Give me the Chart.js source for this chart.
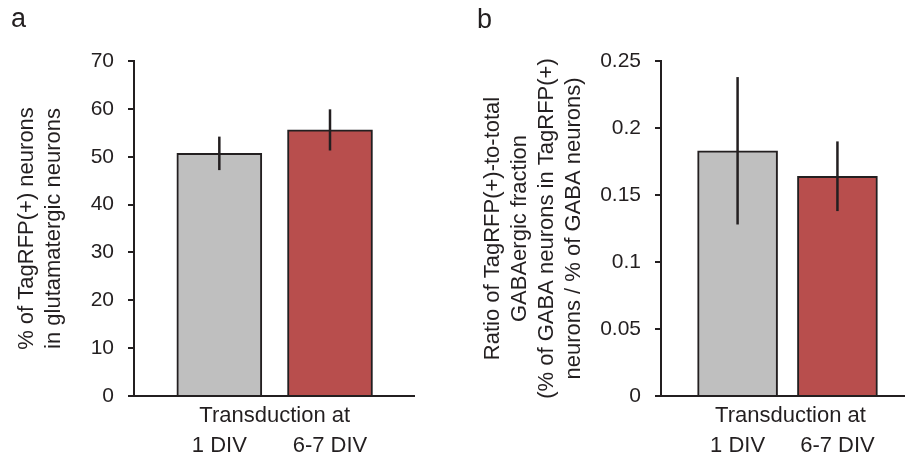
<!DOCTYPE html>
<html>
<head>
<meta charset="utf-8">
<script src="https://cdn.jsdelivr.net/npm/chart.js@4.4.1/dist/chart.umd.min.js"></script>
<style>
  body { margin: 0; background: #fff; }
  #wrap { position: relative; width: 912px; height: 461px; overflow: hidden; font-family: "Liberation Sans", Arial, sans-serif; color: #231f20; }
  .panel { position: absolute; top: 0; width: 456px; height: 461px; }
  .tag { position: absolute; font-size: 27px; line-height: 27px; }
</style>
</head>
<body>
<div id="wrap">
  <div class="panel" style="left:0"><canvas id="chartA" width="456" height="461"></canvas></div>
  <div class="panel" style="left:456px"><canvas id="chartB" width="456" height="461"></canvas></div>
  <div class="tag" style="left:11px; top:5px">a</div>
  <div class="tag" style="left:477px; top:6px">b</div>
</div>
<script>
// values
const categories = ['1 DIV', '6-7 DIV'];
const glutMeans = [50.7, 55.6];
const glutErrors = [3.5, 4.3];
const gabaMeans = [0.183, 0.164];
const gabaErrors = [0.055, 0.026];
const glutTicks = [0, 10, 20, 30, 40, 50, 60, 70];
const gabaTicks = [0, 0.05, 0.1, 0.15, 0.2, 0.25];
const barColors = ['#bfbfbf', '#b84e4d'];
const ink = '#231f20';

Chart.defaults.font.family = '"Liberation Sans", Arial, sans-serif';
Chart.defaults.color = ink;

// draws the error bars (no caps) through the chart scales
const errorBars = {
  id: 'errorBars',
  afterDatasetsDraw(chart, args, opts) {
    const ctx = chart.ctx;
    const y = chart.scales.y;
    const meta = chart.getDatasetMeta(0);
    ctx.save();
    ctx.strokeStyle = ink;
    ctx.lineWidth = 2.5;
    meta.data.forEach((bar, i) => {
      const v = opts.means[i], e = opts.errors[i];
      ctx.beginPath();
      ctx.moveTo(bar.x, y.getPixelForValue(v + e));
      ctx.lineTo(bar.x, y.getPixelForValue(v - e));
      ctx.stroke();
    });
    ctx.restore();
  }
};

// "Transduction at" sits above the category labels
const groupLabel = {
  id: 'groupLabel',
  afterDraw(chart, args, opts) {
    const ctx = chart.ctx;
    ctx.save();
    ctx.font = '22px "Liberation Sans", Arial, sans-serif';
    ctx.fillStyle = ink;
    ctx.textAlign = 'center';
    ctx.textBaseline = 'middle';
    ctx.fillText(opts.text, chart.scales.x.getPixelForValue(1.5) + opts.shift, chart.chartArea.bottom + 20);
    ctx.restore();
  }
};

function makeChart(id, means, errors, ticks, title, cfg) {
  new Chart(document.getElementById(id), {
    type: 'bar',
    data: {
      datasets: [{
        data: means.map((v, i) => ({ x: i + 1, y: v })),
        backgroundColor: barColors,
        borderColor: ink,
        borderWidth: 2,
        barThickness: cfg.barWidth
      }]
    },
    options: {
      responsive: false,
      animation: false,
      layout: { padding: { top: 61, right: cfg.right, left: 0, bottom: 0 } },
      plugins: {
        legend: { display: false },
        tooltip: { enabled: false },
        errorBars: { means: means, errors: errors },
        groupLabel: { text: 'Transduction at', shift: cfg.shift }
      },
      scales: {
        x: {
          type: 'linear',
          offset: false,
          min: cfg.xmin,
          max: cfg.xmax,
          grid: { display: false, drawTicks: false },
          border: { display: true, color: ink, width: 2 },
          afterBuildTicks: s => { s.ticks = categories.map((c, i) => ({ value: i + 1 })); },
          ticks: {
            font: { size: 22 },
            padding: 37,
            maxRotation: 0,
            autoSkip: false,
            callback: v => categories[v - 1]
          },
          afterFit: s => { s.height = 65; }
        },
        y: {
          min: ticks[0],
          max: ticks[ticks.length - 1],
          afterBuildTicks: s => { s.ticks = ticks.map(v => ({ value: v })); },
          grid: { drawOnChartArea: false, drawTicks: true, tickLength: 6, color: ink, lineWidth: 2 },
          border: { display: true, color: ink, width: 2 },
          ticks: { font: { size: 21 }, padding: 14, callback: v => String(v) },
          title: {
            display: true,
            text: title,
            font: { size: 22, lineHeight: 1.23 },
            padding: { top: cfg.titlePad, bottom: 0 }
          },
          afterFit: s => { s.width = cfg.yWidth; }
        }
      }
    },
    plugins: [errorBars, groupLabel]
  });
}

makeChart('chartA', glutMeans, glutErrors, glutTicks,
  ['% of TagRFP(+) neurons', 'in glutamatergic neurons'],
  { yWidth: 134, right: 42, xmin: 0.229, xmax: 2.759, barWidth: 85, titlePad: 13, shift: 0 });

makeChart('chartB', gabaMeans, gabaErrors, gabaTicks,
  ['Ratio of TagRFP(+)-to-total', 'GABAergic fraction', '(% of GABA neurons in TagRFP(+)', 'neurons / % of GABA neurons)'],
  { yWidth: 205, right: 1, xmin: 0.233, xmax: 2.667, barWidth: 80, titlePad: 23, shift: 3 });
</script>
</body>
</html>
